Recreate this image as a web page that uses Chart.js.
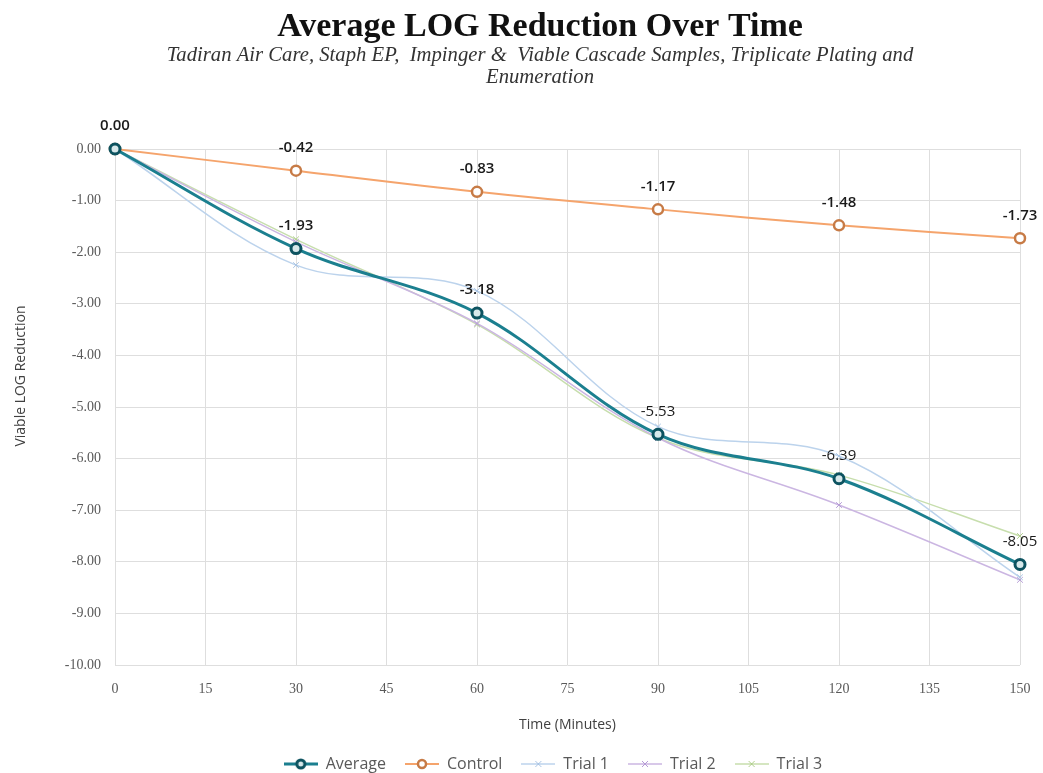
<!DOCTYPE html>
<html>
<head>
<meta charset="utf-8">
<script src="https://cdn.jsdelivr.net/npm/chart.js@4/dist/chart.umd.min.js"></script>
<style>
  html, body { margin: 0; padding: 0; background: #ffffff; }
  #wrap { width: 1043px; height: 773px; position: relative; }
</style>
</head>
<body>
<div id="wrap"><canvas id="c" width="1043" height="773"></canvas></div>
<script>
// Sampling times (minutes)
const times = [0, 30, 60, 90, 120, 150];

// Viable LOG reduction per series
const average = [0.00, -1.93, -3.18, -5.53, -6.39, -8.05];
const control = [0.00, -0.42, -0.83, -1.17, -1.48, -1.73];
const trial1  = [0.00, -2.25, -2.75, -5.38, -5.95, -8.30];
const trial2  = [0.00, -1.80, -3.38, -5.60, -6.90, -8.35];
const trial3  = [0.00, -1.75, -3.40, -5.60, -6.32, -7.50];

const seriesNames = ['Average', 'Control', 'Trial 1', 'Trial 2', 'Trial 3'];

// Axis tick values
const xTicks = [0, 15, 30, 45, 60, 75, 90, 105, 120, 135, 150];
const yTicks = [0, -1, -2, -3, -4, -5, -6, -7, -8, -9, -10];

const titleText = 'Average LOG Reduction Over Time';
const subtitleLines = [
  'Tadiran Air Care, Staph EP,  Impinger &  Viable Cascade Samples, Triplicate Plating and',
  'Enumeration'
];
const yAxisTitle = 'Viable LOG Reduction';

const toPoints = vals => vals.map((v, i) => ({ x: times[i], y: v }));

const styles = [
  { line: '#1b7f8f', width: 3,   point: 'circle',   radius: 5, pBorder: '#0d5360', pFill: '#d7e8ea', pWidth: 3 },
  { line: '#f5a46c', width: 2,   point: 'circle',   radius: 5, pBorder: '#c77b46', pFill: '#ffffff', pWidth: 2.5 },
  { line: '#bcd3ec', width: 1.5, point: 'crossRot', radius: 4, pBorder: '#a9c4e4', pFill: '#a9c4e4', pWidth: 1 },
  { line: '#cbb6e2', width: 1.5, point: 'crossRot', radius: 4, pBorder: '#b59bd6', pFill: '#b59bd6', pWidth: 1 },
  { line: '#c7dead', width: 1.5, point: 'crossRot', radius: 4, pBorder: '#b0cf8d', pFill: '#b0cf8d', pWidth: 1 }
];

const allSeries = [average, control, trial1, trial2, trial3];

const datasets = allSeries.map((vals, i) => ({
  label: seriesNames[i],
  data: toPoints(vals),
  borderColor: styles[i].line,
  backgroundColor: styles[i].line,
  borderWidth: styles[i].width,
  tension: 0.35,
  clip: false,
  pointStyle: styles[i].point,
  pointRadius: styles[i].radius,
  pointBorderColor: styles[i].pBorder,
  pointBackgroundColor: styles[i].pFill,
  pointBorderWidth: styles[i].pWidth,
  fill: false
}));

// Legend swatch: short line with the series marker in the middle
function legendSwatch(s) {
  const cv = document.createElement('canvas');
  cv.width = 34; cv.height = 14;
  const g = cv.getContext('2d');
  g.strokeStyle = s.line;
  g.lineWidth = s.width;
  g.beginPath(); g.moveTo(0, 7); g.lineTo(34, 7); g.stroke();
  g.lineWidth = s.pWidth;
  g.strokeStyle = s.pBorder;
  if (s.point === 'circle') {
    g.fillStyle = s.pFill;
    g.beginPath(); g.arc(17, 7, 4, 0, Math.PI * 2); g.fill(); g.stroke();
  } else {
    g.beginPath();
    g.moveTo(14, 4); g.lineTo(20, 10);
    g.moveTo(20, 4); g.lineTo(14, 10);
    g.stroke();
  }
  return cv;
}

// Value labels above the Average and Control markers
const valueLabels = {
  id: 'valueLabels',
  afterDatasetsDraw(chart) {
    const ctx = chart.ctx;
    ctx.save();
    ctx.textAlign = 'center';
    ctx.textBaseline = 'middle';
    ctx.fillStyle = '#1a1a1a';
    [0, 1].forEach(di => {
      const meta = chart.getDatasetMeta(di);
      const vals = allSeries[di];
      meta.data.forEach((el, i) => {
        if (di === 1 && i === 0) return; // shared origin label drawn once
        const bold = di === 1 || i < 3;
        ctx.font = (bold ? '600 ' : '400 ') + '15px "Open Sans"';
        ctx.fillText(vals[i].toFixed(2), el.x, el.y - 23);
      });
    });
    ctx.restore();
  }
};

// Heading, subheading and the vertical axis caption
const heading = {
  id: 'heading',
  afterDraw(chart) {
    const ctx = chart.ctx;
    ctx.save();
    ctx.textAlign = 'center';
    ctx.textBaseline = 'middle';
    ctx.fillStyle = '#111111';
    ctx.font = 'bold 34px "Liberation Serif"';
    ctx.fillText(titleText, 540, 27);
    ctx.fillStyle = '#333333';
    ctx.font = 'italic 20.7px "Liberation Serif"';
    ctx.fillText(subtitleLines[0], 540, 56);
    ctx.fillText(subtitleLines[1], 540, 78);

    ctx.translate(21, 376);
    ctx.rotate(-Math.PI / 2);
    ctx.fillStyle = '#404040';
    ctx.font = '14px "Open Sans"';
    ctx.fillText(yAxisTitle, 0, 0);
    ctx.restore();
  }
};

// Legend row sits a little right of the canvas centre
const legendOffset = {
  id: 'legendOffset',
  afterLayout(chart) {
    if (chart.legend) {
      chart.legend.left += 38;
      chart.legend.right += 38;
    }
  }
};

new Chart(document.getElementById('c'), {
  type: 'line',
  data: { datasets },
  plugins: [valueLabels, heading, legendOffset],
  options: {
    responsive: false,
    animation: false,
    layout: { padding: { top: 149, right: 23, left: 10, bottom: -9 } },
    plugins: {
      tooltip: { enabled: false },
      title: { display: false },
      legend: {
        position: 'bottom',
        labels: {
          usePointStyle: true,
          pointStyleWidth: 34,
          padding: 19,
          color: '#595959',
          font: { family: '"Open Sans"', size: 16 },
          generateLabels(chart) {
            return chart.data.datasets.map((ds, i) => ({
              text: ds.label,
              fillStyle: ds.borderColor,
              strokeStyle: ds.borderColor,
              lineWidth: 0,
              pointStyle: legendSwatch(styles[i]),
              fontColor: '#595959',
              hidden: false,
              datasetIndex: i
            }));
          }
        }
      }
    },
    scales: {
      x: {
        type: 'linear',
        min: 0, max: 150,
        afterBuildTicks(scale) { scale.ticks = xTicks.map(v => ({ value: v })); },
        afterFit(scale) { scale.height = 72; scale.paddingRight = 0; scale.paddingLeft = 0; },
        grid: { color: '#dedede', lineWidth: 1, drawTicks: false },
        border: { display: false },
        ticks: { padding: 16, color: '#595959', font: { family: '"Liberation Serif"', size: 14 } },
        title: { display: true, text: 'Time (Minutes)', color: '#404040', padding: { top: 7 },
                 font: { family: '"Open Sans"', size: 14 } }
      },
      y: {
        min: -10, max: 0,
        afterBuildTicks(scale) { scale.ticks = yTicks.map(v => ({ value: v })); },
        afterFit(scale) { scale.width = 105; },
        grid: { color: '#dedede', lineWidth: 1, drawTicks: false },
        border: { display: false },
        ticks: { padding: 14, color: '#595959', font: { family: '"Liberation Serif"', size: 14 },
                 callback: v => Number(v).toFixed(2) },
        title: { display: false }
      }
    }
  }
});
</script>
</body>
</html>
